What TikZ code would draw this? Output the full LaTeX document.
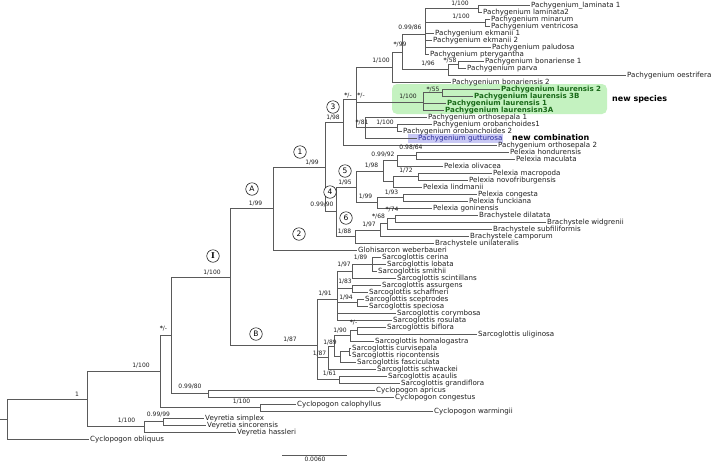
\documentclass[tikz,border=0pt]{standalone}
\usepackage{fontspec}
\setmainfont{DejaVu Sans}
\newfontfamily\serifI{DejaVu Serif}
\definecolor{brc}{HTML}{5A5A5A}
\definecolor{txt}{HTML}{202020}
\definecolor{greenbox}{HTML}{C4F2C0}
\definecolor{greentxt}{HTML}{1A6A1A}
\definecolor{bluebox}{HTML}{C8C8F4}
\definecolor{bluetxt}{HTML}{2A2A9A}
\begin{document}
\begin{tikzpicture}[x=1pt,y=-1pt,
 br/.style={draw=brc, line width=0.6pt},
 leaf/.style={anchor=west, inner xsep=1.5pt, inner ysep=0pt, font=\fontsize{7.1}{7.5}\selectfont, text height=0.7em, text depth=0.2em, text=txt},
 gleaf/.style={leaf, font=\fontsize{7.1}{7.5}\selectfont\bfseries, text=greentxt},
 supl/.style={font=\fontsize{6}{6}\selectfont, inner sep=0pt, text=txt},
 circ/.style={circle, draw=black, fill=white, line width=0.5pt, inner sep=0pt, minimum size=12.5pt, font=\fontsize{7.5}{8}\selectfont}]
\useasboundingbox (0,0) rectangle (712,464);
\fill[white] (0,0) rectangle (712,464);
% highlight boxes
\fill[greenbox, rounded corners=5pt] (392,84) rectangle (607,114);
\fill[bluebox] (408,134) rectangle (503,143);
% ---------- internal nodes ----------
\coordinate (R0) at (0,419);
\coordinate (R) at (7,419);
\coordinate (N1) at (87,399.05);
\coordinate (V) at (144,426.75);
\coordinate (V2) at (163,421.5);
\coordinate (NI2) at (160,371.35);
\coordinate (C2) at (260,407.5);
\coordinate (NS) at (171,335.2);
\coordinate (C1) at (208,393.5);
\coordinate (NI) at (230,276.85);
\coordinate (NA) at (273,208.4);
\coordinate (NB) at (317,345.3);
\coordinate (Nn1) at (325,166.8);
\coordinate (Nn3) at (343,121.9);
\coordinate (Nn4) at (336,211.7);
\coordinate (Nn5) at (356,187);
\coordinate (Nn6) at (355,236.4);
\coordinate (Np1) at (383,171.25);
\coordinate (Np2) at (377,202.75);
\coordinate (Np3) at (397,160.75);
\coordinate (Np4) at (393,181.75);
\coordinate (Np5) at (416,155.5);
\coordinate (Np6) at (418,176.5);
\coordinate (Np7) at (403,197.5);
\coordinate (Nb) at (380,229.9);
\coordinate (Nb1) at (387,223.75);
\coordinate (Nb2) at (395,218.5);
\coordinate (Y) at (356,98.8);
\coordinate (W) at (365,127.5);
\coordinate (P1) at (392,66.98);
\coordinate (X) at (402,51.96);
\coordinate (Q) at (425,34.17);
\coordinate (LamN) at (478,8.5);
\coordinate (MinN) at (485,22.5);
\coordinate (T) at (448,69.75);
\coordinate (S) at (458,64.5);
\coordinate (L) at (423,101.83);
\coordinate (LS) at (442,92.5);
\coordinate (O) at (397,127.5);
\coordinate (NS1) at (337,299);
\coordinate (Sc1) at (372,264);
\coordinate (Sc2) at (352,271);
\coordinate (Sc3) at (352,288.5);
\coordinate (Sc4) at (357,302.5);
\coordinate (Sc5) at (357,330.5);
\coordinate (Sc6) at (350,335.75);
\coordinate (Sc8) at (349,351.5);
\coordinate (Sc9) at (340,356.75);
\coordinate (Sc10) at (334,346.25);
\coordinate (Sc11) at (328,357.6);
\coordinate (Sc12) at (339,379.5);
% ---------- leaves ----------
\node[leaf] (l0) at (529.5,5) {Pachygenium\_laminata 1};
\node[leaf] (l1) at (481.5,12) {Pachygenium laminata2};
\node[leaf] (l2) at (489.5,19) {Pachygenium minarum};
\node[leaf] (l3) at (489.5,26) {Pachygenium ventricosa};
\node[leaf] (l4) at (433.5,33) {Pachygenium ekmanii 1};
\node[leaf] (l5) at (431.5,40) {Pachygenium ekmanii 2};
\node[leaf] (l6) at (490.5,47) {Pachygenium paludosa};
\node[leaf] (l7) at (428.5,54) {Pachygenium pterygantha};
\node[leaf] (l8) at (483.5,61) {Pachygenium bonariense 1};
\node[leaf] (l9) at (465.5,68) {Pachygenium parva};
\node[leaf] (l10) at (625.5,75) {Pachygenium oestrifera};
\node[leaf] (l11) at (450.5,82) {Pachygenium bonariensis 2};
\node[gleaf] (l12) at (499.5,89) {Pachygenium laurensis 2};
\node[gleaf] (l13) at (472.5,96) {Pachygenium laurensis 3B};
\node[gleaf] (l14) at (445.5,103) {Pachygenium laurensis 1};
\node[gleaf] (l15) at (443.5,110) {Pachygenium laurensisn3A};
\node[leaf] (l16) at (426.5,117) {Pachygenium orthosepala 1};
\node[leaf] (l17) at (431.5,124) {Pachygenium orobanchoides1};
\node[leaf] (l18) at (401.5,131) {Pachygenium orobanchoides 2};
\node[leaf, text=bluetxt] (l19) at (416.5,138) {Pachygenium gutturosa};
\node[leaf] (l20) at (496.5,145) {Pachygenium orthosepala 2};
\node[leaf] (l21) at (508.5,152) {Pelexia hondurensis};
\node[leaf] (l22) at (514.5,159) {Pelexia maculata};
\node[leaf] (l23) at (442.5,166) {Pelexia olivacea};
\node[leaf] (l24) at (491.5,173) {Pelexia macropoda};
\node[leaf] (l25) at (467.5,180) {Pelexia novofriburgensis};
\node[leaf] (l26) at (421.5,187) {Pelexia lindmanii};
\node[leaf] (l27) at (476.5,194) {Pelexia congesta};
\node[leaf] (l28) at (467.5,201) {Pelexia funckiana};
\node[leaf] (l29) at (431.5,208) {Pelexia goninensis};
\node[leaf] (l30) at (477.5,215) {Brachystele dilatata};
\node[leaf] (l31) at (545.5,222) {Brachystele widgrenii};
\node[leaf] (l32) at (491.5,229) {Brachystele subfiliformis};
\node[leaf] (l33) at (468.5,236) {Brachystele camporum};
\node[leaf] (l34) at (433.5,243) {Brachystele unilateralis};
\node[leaf] (l35) at (356.5,250) {Glohisarcon weberbaueri};
\node[leaf] (l36) at (380.5,257) {Sarcoglottis cerina};
\node[leaf] (l37) at (385.5,264) {Sarcoglottis lobata};
\node[leaf] (l38) at (376.5,271) {Sarcoglottis smithii};
\node[leaf] (l39) at (395.5,278) {Sarcoglottis scintillans};
\node[leaf] (l40) at (380.5,285) {Sarcoglottis assurgens};
\node[leaf] (l41) at (367.5,292) {Sarcoglottis schaffneri};
\node[leaf] (l42) at (363.5,299) {Sarcoglottis sceptrodes};
\node[leaf] (l43) at (367.5,306) {Sarcoglottis speciosa};
\node[leaf] (l44) at (395.5,313) {Sarcoglottis corymbosa};
\node[leaf] (l45) at (391.5,320) {Sarcoglottis rosulata};
\node[leaf] (l46) at (385.5,327) {Sarcoglottis biflora};
\node[leaf] (l47) at (476.5,334) {Sarcoglottis uliginosa};
\node[leaf] (l48) at (373.5,341) {Sarcoglottis homalogastra};
\node[leaf] (l49) at (350.5,348) {Sarcoglottis curvisepala};
\node[leaf] (l50) at (350.5,355) {Sarcoglottis riocontensis};
\node[leaf] (l51) at (355.5,362) {Sarcoglottis fasciculata};
\node[leaf] (l52) at (375.5,369) {Sarcoglottis schwackei};
\node[leaf] (l53) at (386.5,376) {Sarcoglottis acaulis};
\node[leaf] (l54) at (399.5,383) {Sarcoglottis grandiflora};
\node[leaf] (l55) at (374.5,390) {Cyclopogon apricus};
\node[leaf] (l56) at (393.5,397) {Cyclopogon congestus};
\node[leaf] (l57) at (295.5,404) {Cyclopogon calophyllus};
\node[leaf] (l58) at (432.5,411) {Cyclopogon warmingii};
\node[leaf] (l59) at (203.5,418) {Veyretia simplex};
\node[leaf] (l60) at (205.5,425) {Veyretia sincorensis};
\node[leaf] (l61) at (235.5,432) {Veyretia hassleri};
\node[leaf] (l62) at (88.5,439) {Cyclopogon obliquus};
% ---------- branches ----------
\draw[br] (R0) -- (R);
\foreach \p/\c in {R/N1, N1/NI2, N1/V, V/V2, NI2/NS, NI2/C2, NS/NI, NS/C1, NI/NA, NI/NB,
  NA/Nn1, Nn1/Nn3, Nn1/Nn4, Nn4/Nn5, Nn4/Nn6, Nn5/Np1, Nn5/Np2, Np1/Np3, Np1/Np4,
  Np3/Np5, Np4/Np6, Np2/Np7, Nn6/Nb, Nb/Nb1, Nb1/Nb2, Nn3/Y, Y/P1, Y/L, Y/W, W/O,
  P1/X, X/Q, X/T, Q/LamN, Q/MinN, T/S, L/LS,
  NB/NS1, NB/Sc11, NB/Sc12, NS1/Sc2, NS1/Sc3, NS1/Sc4, Sc2/Sc1, Sc11/Sc10, Sc10/Sc6, Sc10/Sc9,
  Sc6/Sc5, Sc9/Sc8}
  \draw[br] (\p) |- (\c);
\foreach \p/\c in {R/l62, V/l61, V2/l59, V2/l60, C2/l57, C2/l58, C1/l55, C1/l56, NA/l35,
  Np3/l23, Np5/l21, Np5/l22, Np4/l26, Np6/l24, Np6/l25, Np2/l29, Np7/l27, Np7/l28,
  Nn6/l34, Nb/l33, Nb1/l32, Nb2/l30, Nb2/l31, Nn3/l20, W/l19, W/l16, O/l17, O/l18,
  P1/l11, Q/l4, Q/l5, Q/l6, Q/l7, LamN/l0, LamN/l1, MinN/l2, MinN/l3, T/l10, S/l8, S/l9,
  L/l14, L/l15, LS/l12, LS/l13,
  NS1/l44, NS1/l45, Sc1/l36, Sc1/l37, Sc1/l38, Sc2/l39, Sc3/l40, Sc3/l41, Sc4/l42, Sc4/l43,
  Sc5/l46, Sc5/l47, Sc6/l48, Sc8/l49, Sc8/l50, Sc9/l51, Sc11/l52, Sc12/l53, Sc12/l54}
  \draw[br] (\p) |- (\c.west);
% ---------- support labels ----------
\node[supl] (s1) at (460,3.5) {1/100};
\node[supl] (s2) at (461,17) {1/100};
\node[supl] (s3) at (410,28) {0.99/86};
\node[supl] (s4) at (400,45) {\textbf{*}/99};
\node[supl] (s5) at (428,64) {1/96};
\node[supl] (s6) at (450,61) {\textbf{*}/58};
\node[supl] (s7) at (381,61) {1/100};
\node[supl] (s8) at (433,89.5) {\textbf{*}/55};
\node[supl] (s9) at (408,97) {1/100};
\node[supl] (s10) at (348,96) {\textbf{*}/-};
\node[supl] (s11) at (361,96) {\textbf{*}/-};
\node[supl] (s12) at (362,123) {\textbf{*}/81};
\node[supl] (s13) at (385,123) {1/100};
\node[supl] (s14) at (333,118) {1/98};
\node[supl] (s15) at (312,163) {1/99};
\node[supl] (s16) at (411,148) {0.98/64};
\node[supl] (s17) at (383,154.5) {0.99/92};
\node[supl] (s18) at (371.5,166) {1/98};
\node[supl] (s19) at (406,171) {1/72};
\node[supl] (s20) at (345,183) {1/95};
\node[supl] (s21) at (365.5,197) {1/99};
\node[supl] (s22) at (391.5,193) {1/93};
\node[supl] (s23) at (322,205) {0.99/90};
\node[supl] (s24) at (392,210) {\textbf{*}/74};
\node[supl] (s25) at (378.5,217) {\textbf{*}/68};
\node[supl] (s26) at (369,225) {1/97};
\node[supl] (s27) at (344.5,232) {1/88};
\node[supl] (s28) at (255.5,204) {1/99};
\node[supl] (s29) at (212,273) {1/100};
\node[supl] (s30) at (360.5,258) {1/89};
\node[supl] (s31) at (344,265) {1/97};
\node[supl] (s32) at (345,282) {1/83};
\node[supl] (s33) at (346,298) {1/94};
\node[supl] (s34) at (325,293.5) {1/91};
\node[supl] (s35) at (353.5,323) {\textbf{*}/-};
\node[supl] (s36) at (340,331) {1/90};
\node[supl] (s37) at (330,342.5) {1/89};
\node[supl] (s38) at (319.5,354) {1/87};
\node[supl] (s39) at (329.5,374) {1/61};
\node[supl] (s40) at (290,339.5) {1/87};
\node[supl] (s41) at (163.5,329) {\textbf{*}/-};
\node[supl] (s42) at (190,387) {0.99/80};
\node[supl] (s43) at (241.5,402) {1/100};
\node[supl] (s44) at (141,366) {1/100};
\node[supl] (s45) at (77,394) {1};
\node[supl] (s46) at (126.5,421) {1/100};
\node[supl] (s47) at (158.5,415) {0.99/99};
% ---------- clade circles ----------
\node[circ] (c1) at (300,152) {1};
\node[circ] (cA) at (252,189) {A};
\node[circ] (c2) at (299,234) {2};
\node[circ, font=\fontsize{8}{8}\selectfont\serifI\bfseries] (cI) at (213,256) {I};
\node[circ] (cB) at (256,334) {B};
\node[circ] (c3) at (333,107) {3};
\node[circ] (c4) at (330,192) {4};
\node[circ] (c5) at (345,171) {5};
\node[circ] (c6) at (346,218) {6};
% ---------- annotations ----------
\node[anchor=west, inner sep=0pt, font=\fontsize{8}{8}\selectfont\bfseries] (ns) at (612,99) {new species};
\node[anchor=west, inner sep=0pt, font=\fontsize{8}{8}\selectfont\bfseries] (nc) at (512,138) {new combination};
% ---------- scale bar ----------
\coordinate (sbL) at (282,455);
\coordinate (sbR) at (347,455);
\draw[br] (sbL) -- (sbR);
\node[supl] (sbt) at (315,459.5) {0.0060};
\end{tikzpicture}
\end{document}
